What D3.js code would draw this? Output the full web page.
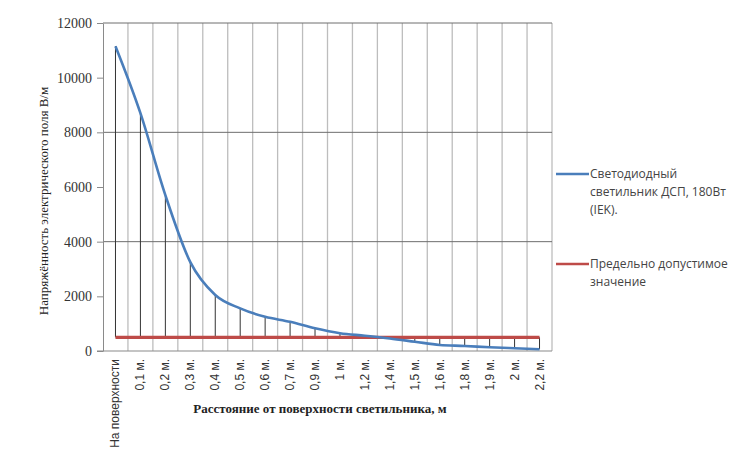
<!DOCTYPE html>
<html>
<head>
<meta charset="utf-8">
<script src="https://cdn.jsdelivr.net/npm/d3@7"></script>
<style>
  body { margin: 0; background: #fff; }
</style>
</head>
<body>
<div id="chart"></div>
<script>
// distances from the lamp surface
const categories = ["На поверхности", "0,1 м.", "0,2 м.", "0,3 м.", "0,4 м.", "0,5 м.", "0,6 м.", "0,7 м.", "0,9 м.",
  "1 м.", "1,2 м.", "1,4 м.", "1,5 м.", "1,6 м.", "1,8 м.", "1,9 м.", "2 м.", "2,2 м."];
// measured field strength, V/m
const ledValues = [11150, 8700, 5700, 3250, 2050, 1560, 1250, 1070, 830, 650, 560, 460, 340, 220, 185, 135, 100, 65];
// permissible limit
const limitValues = categories.map(() => 500);
const yTicks = [0, 2000, 4000, 6000, 8000, 10000, 12000];
const yGrid = [4000, 8000, 12000];
const legendItems = [
  { name: ["Светодиодный", "светильник ДСП, 180Вт", "(IEK)."], color: "#4a7ebb" },
  { name: ["Предельно допустимое", "значение"], color: "#be4b48" }
];

const W = 745, H = 460;
const margin = { top: 23, right: 193, bottom: 109, left: 103 };
const width = W - margin.left - margin.right;
const height = H - margin.top - margin.bottom;

const svg = d3.select("#chart").append("svg")
  .attr("width", W).attr("height", H);

const g = svg.append("g").attr("transform", `translate(${margin.left},${margin.top})`);

const x = d3.scaleBand().domain(categories).range([0, width]).padding(0);
const y = d3.scaleLinear().domain([0, 12000]).range([height, 0]);
const cx = d => x(d) + x.bandwidth() / 2;

// vertical gridlines at category borders
const borders = categories.map(c => x(c)).concat([width]);
g.selectAll(".vgrid").data(borders.slice(1)).join("line")
  .attr("x1", d => d).attr("x2", d => d)
  .attr("y1", 0).attr("y2", height)
  .attr("stroke", "#bdbdbd").attr("stroke-width", 1.3);

// horizontal gridlines
g.selectAll(".hgrid").data(yGrid).join("line")
  .attr("x1", 0).attr("x2", width)
  .attr("y1", d => y(d)).attr("y2", d => y(d))
  .attr("stroke", "#6e6e6e").attr("stroke-width", 1);

// drop lines between the two series
g.selectAll(".drop").data(categories).join("line")
  .attr("x1", d => cx(d)).attr("x2", d => cx(d))
  .attr("y1", (d, i) => y(ledValues[i])).attr("y2", (d, i) => y(limitValues[i]))
  .attr("stroke", "#333").attr("stroke-width", 1);

// y axis
const yAxis = g.append("g")
  .attr("font-family", "'Liberation Serif', 'DejaVu Serif', serif")
  .call(d3.axisLeft(y).tickValues(yTicks).tickFormat(d3.format("d"))
    .tickSize(6).tickSizeOuter(0).tickPadding(5));
yAxis.attr("font-family", "'Liberation Serif', 'DejaVu Serif', serif");
yAxis.select(".domain").attr("stroke", "#8a8a8a");
yAxis.selectAll(".tick line").attr("stroke", "#8a8a8a");
yAxis.selectAll("text")
  .attr("font-size", 14).attr("fill", "#333");

// x axis
g.append("line")
  .attr("x1", -6).attr("x2", width)
  .attr("y1", height).attr("y2", height)
  .attr("stroke", "#8a8a8a").attr("stroke-width", 1.2);
g.selectAll(".xlab").data(categories).join("text")
  .attr("transform", d => `translate(${cx(d) + 4},${height + 8}) rotate(-90)`)
  .attr("text-anchor", "end")
  .attr("font-family", "'Liberation Sans', Arial, sans-serif")
  .attr("font-size", 12).attr("fill", "#333")
  .text(d => d);

// series
const line = d3.line().x((d, i) => cx(categories[i])).y(d => y(d));
g.append("path").datum(limitValues)
  .attr("d", line).attr("fill", "none")
  .attr("stroke", "#be4b48").attr("stroke-width", 3.2);
g.append("path").datum(ledValues)
  .attr("d", line.curve(d3.curveMonotoneX)).attr("fill", "none")
  .attr("stroke", "#4a7ebb").attr("stroke-width", 2.6);

// axis titles
svg.append("text")
  .attr("transform", `translate(48,${margin.top + height / 2 + 14}) rotate(-90)`)
  .attr("text-anchor", "middle")
  .attr("font-family", "'Liberation Serif', serif")
  .attr("font-size", 13).attr("fill", "#222")
  .text("Напряжённость электрического поля В/м");

svg.append("text")
  .attr("x", 320).attr("y", 413)
  .attr("text-anchor", "middle")
  .attr("font-family", "'Liberation Serif', serif")
  .attr("font-weight", "bold")
  .attr("font-size", 13).attr("fill", "#222")
  .text("Расстояние от поверхности светильника, м");

// legend
const legendY = [174, 264];
legendItems.forEach((item, k) => {
  const lg = svg.append("g").attr("transform", `translate(556,${legendY[k]})`);
  lg.append("line").attr("x1", 0).attr("x2", 33).attr("y1", 0).attr("y2", 0)
    .attr("stroke", item.color).attr("stroke-width", 2.6);
  lg.selectAll("text").data(item.name).join("text")
    .attr("x", 34).attr("y", (d, i) => i * 18 + 4)
    .attr("font-family", "'Open Sans', 'DejaVu Sans', sans-serif")
    .attr("font-size", 12).attr("fill", "#444")
    .text(d => d);
});
</script>
</body>
</html>
